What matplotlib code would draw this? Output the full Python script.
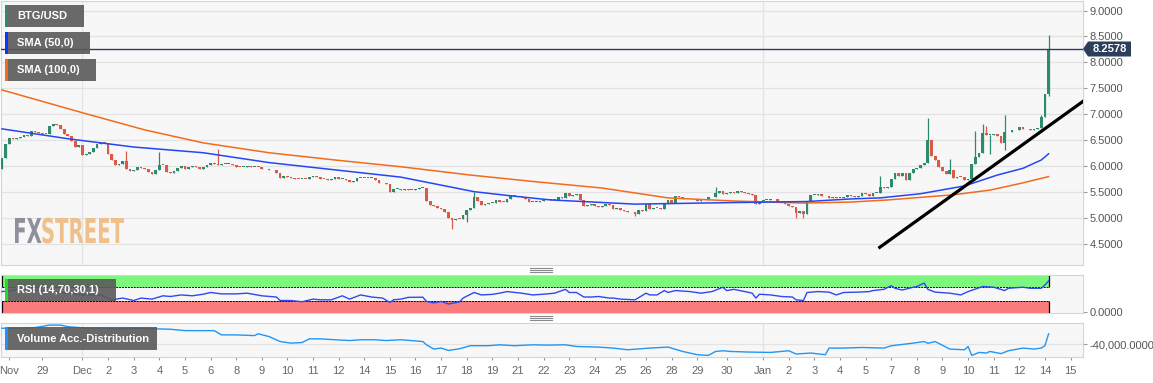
import numpy as np
import matplotlib.pyplot as plt
from matplotlib.patches import Rectangle, Polygon, PathPatch
from matplotlib.textpath import TextPath
from matplotlib.font_manager import FontProperties
from matplotlib.transforms import Affine2D, IdentityTransform

plt.rcParams['font.family'] = ['Liberation Sans', 'DejaVu Sans']

# BTG/USD 4h candles, first candle Nov 27 08:00
first_open = 5.95
closes = [
    6.15, 6.42, 6.55, 6.52, 6.55, 6.57, 6.60, 6.58, 6.68, 6.66,
    6.64, 6.63, 6.62, 6.78, 6.81, 6.80, 6.71, 6.63, 6.58, 6.48,
    6.37, 6.40, 6.22, 6.24, 6.27, 6.36, 6.42, 6.47, 6.45, 6.24,
    6.12, 6.03, 6.05, 6.10, 5.95, 5.90, 5.93, 5.98, 5.97, 5.94,
    5.88, 5.85, 5.92, 6.03, 6.02, 5.88, 5.86, 5.90, 5.96, 6.00,
    5.95, 5.98, 6.00, 5.98, 5.95, 5.99, 6.02, 6.06, 6.05, 6.03,
    6.04, 6.04, 6.05, 6.03, 5.99, 5.98, 5.99, 6.01, 5.98, 5.99,
    5.98, 5.94, 5.94, 5.92, 5.93, 5.86, 5.77, 5.82, 5.79, 5.77,
    5.76, 5.75, 5.76, 5.75, 5.79, 5.81, 5.79, 5.76, 5.75, 5.74,
    5.76, 5.80, 5.75, 5.76, 5.74, 5.69, 5.72, 5.77, 5.78, 5.77,
    5.77, 5.78, 5.74, 5.67, 5.68, 5.66, 5.50, 5.56, 5.56, 5.54,
    5.56, 5.55, 5.55, 5.56, 5.58, 5.58, 5.33, 5.25, 5.24, 5.20,
    5.18, 5.12, 5.00, 4.96, 4.99, 4.98, 5.06, 5.15, 5.19, 5.40,
    5.33, 5.25, 5.27, 5.29, 5.30, 5.34, 5.32, 5.31, 5.36, 5.44,
    5.42, 5.42, 5.41, 5.37, 5.31, 5.31, 5.32, 5.33, 5.34, 5.35,
    5.36, 5.35, 5.41, 5.39, 5.49, 5.43, 5.45, 5.46, 5.35, 5.24,
    5.26, 5.27, 5.23, 5.21, 5.24, 5.27, 5.25, 5.18, 5.19, 5.16,
    5.14, 5.12, 5.11, 5.08, 5.15, 5.14, 5.27, 5.18, 5.20, 5.19,
    5.18, 5.27, 5.34, 5.30, 5.43, 5.41, 5.37, 5.36, 5.36, 5.37,
    5.33, 5.34, 5.35, 5.40, 5.41, 5.49, 5.53, 5.47, 5.49, 5.50,
    5.49, 5.53, 5.51, 5.49, 5.46, 5.44, 5.28, 5.33, 5.35, 5.35,
    5.36, 5.36, 5.32, 5.33, 5.27, 5.23, 5.22, 5.10, 5.14, 5.08,
    5.31, 5.45, 5.45, 5.47, 5.43, 5.42, 5.39, 5.41, 5.39, 5.39,
    5.40, 5.45, 5.43, 5.41, 5.42, 5.48, 5.47, 5.43, 5.48, 5.48,
    5.60, 5.59, 5.60, 5.76, 5.86, 5.81, 5.86, 5.73, 5.86, 5.94,
    5.96, 6.02, 6.07, 6.50, 6.20, 6.12, 5.98, 5.90, 5.85, 5.93,
    5.78, 5.80, 5.79, 5.73, 5.76, 6.05, 6.18, 6.25, 6.64, 6.60,
    6.60, 6.62, 6.58, 6.45, 6.65, 6.66, 6.70, 6.69, 6.75, 6.72,
    6.71, 6.70, 6.72, 6.73, 6.95, 7.40, 8.2578,
]
hi_idx = [34, 43, 59, 129, 195, 240, 253, 259, 266, 268, 269, 274, 284, 286]
hi_val = [6.30, 6.28, 6.34, 5.51, 5.60, 5.82, 6.93, 6.14, 6.67, 6.82, 6.78, 6.99, 6.99, 8.52]
lo_idx = [123, 127, 173, 217, 219, 270, 274, 286]
lo_val = [4.79, 4.92, 5.04, 5.00, 5.00, 6.24, 6.32, 7.35]

sma50_idx = [0, 18, 36, 55, 73, 91, 109, 129, 139, 150, 173, 200, 220, 232, 240, 251, 263, 272, 279, 284, 286]
sma50 = [6.72, 6.53, 6.37, 6.26, 6.07, 5.93, 5.79, 5.51, 5.43, 5.35, 5.27, 5.30, 5.32, 5.37, 5.39, 5.47,
         5.62, 5.83, 5.96, 6.12, 6.24]
sma100_idx = [0, 22, 39, 55, 73, 91, 109, 128, 146, 164, 182, 200, 219, 232, 242, 260, 270, 279, 286]
sma100 = [7.47, 7.03, 6.70, 6.45, 6.26, 6.12, 5.99, 5.83, 5.70, 5.58, 5.39, 5.33, 5.29, 5.31, 5.35, 5.45,
          5.54, 5.68, 5.80]

rsi_idx = [0, 3, 5, 9, 14, 18, 22, 27, 30, 33, 36, 38, 41, 44, 46, 49, 52, 55, 57, 60,
           64, 67, 71, 75, 76, 79, 82, 85, 87, 90, 93, 95, 98, 101, 104, 106, 107, 109,
           111, 115, 116, 118, 120, 122, 125, 126, 129, 131, 134, 136, 138, 142, 145, 148,
           151, 154, 155, 157, 159, 161, 163, 166, 167, 169, 173, 176, 177, 179, 181, 182,
           184, 188, 191, 194, 197, 198, 200, 203, 205, 206, 207, 210, 213, 216, 217, 219,
           220, 223, 226, 228, 230, 234, 237, 238, 241, 243, 244, 246, 249, 250, 252, 253,
           255, 259, 262, 264, 268, 271, 274, 275, 279, 281, 284, 285, 286]
rsi = [57.6, 60.5, 67, 62, 57.6, 53, 48, 48, 34, 39, 32, 39, 36, 45.5, 43.5, 48, 45.5, 50, 55, 51,
       51, 53, 45.5, 42, 32, 32, 28.5, 36, 34, 34, 45.5, 36, 48, 42, 39, 26.6, 34, 36,
       41, 41.5, 29.5, 25, 29.5, 22, 28, 39, 55, 48, 49.6, 53, 57.6, 53, 48, 50,
       53, 64, 55, 55, 42, 42, 43.5, 39, 39, 36, 34, 53, 48, 48, 60.5, 55,
       60.5, 57.6, 53, 57.6, 70, 60.5, 64, 57.6, 53, 39, 50, 48, 43.5, 42, 34, 32,
       55, 57.6, 56, 48, 55, 56, 57.6, 60.5, 64, 74.5, 67, 62, 70, 72, 82, 64,
       56, 53, 48, 57.6, 72, 70, 60.5, 67, 70, 67, 67, 76.5, 88]

ad_idx = [0, 5, 9, 13, 16, 18, 23, 27, 32, 36, 43, 46, 50, 55, 58, 60, 64, 69, 70, 73,
          76, 79, 82, 84, 87, 91, 95, 98, 102, 105, 109, 115, 116, 118, 120, 122, 125, 128, 133, 136,
          140, 145, 149, 154, 157, 163, 167, 171, 177, 182, 186, 190, 193, 195, 197, 199, 204, 210, 215, 217,
          221, 225, 226, 230, 235, 241, 243, 249, 252, 253, 255, 259, 263, 264, 265, 267, 269, 270, 273, 275,
          279, 282, 284, 285, 286]
ad = [0, 0, 1500, 8000, 8000, 4000, 0, 0, -1750, 0, -1750, -2500, -6000, -6000, -6000, -16750, -16750, -18500, -14000, -21000,
      -33500, -37500, -36000, -26750, -26750, -29000, -31000, -29000, -29000, -31000, -29000, -33500, -41750, -52500, -50000,
      -56000, -51750, -44000, -44000, -41750,
      -44000, -41750, -42500, -41750, -46000, -47500, -50000, -54250, -50000, -47500, -58500, -66750, -68500, -58500,
      -56750, -58500, -60000, -61000, -56750, -65000,
      -62500, -66750, -50000, -50000, -48500, -50000, -44250, -37500, -33500, -38000, -33500, -52500, -54250, -46000,
      -68500, -61000, -62500, -58500, -64000, -56750,
      -50000, -52500, -50000, -44000, -14000]

trend_idx = [239.5, 295.8]
trend_val = [4.42, 7.27]
last_price = 8.2578

tick_idx = [2, 11, 22, 29, 36, 43, 50, 57, 64, 71, 78, 85, 92, 99, 106, 113, 120, 127, 134, 141, 148,
            155, 162, 169, 176, 183, 190, 198, 208, 215, 222, 229, 236, 243, 250, 257, 264, 271, 278, 285, 292]
tick_lbl = ['Nov', '29', 'Dec', '2', '3', '4', '5', '6', '8', '9', '10', '11', '12', '14', '15', '16', '17',
            '18', '19', '21', '22', '23', '24', '25', '26', '28', '29', '30', 'Jan', '2', '3', '4', '5', '7',
            '8', '9', '10', '11', '12', '14', '15']
month_idx = [22, 208]

UP, DOWN = '#2e8a6e', '#d95a46'
BG, GRID, EDGE = '#f7f7f7', '#e3e3e3', '#cdd4e2'
W, H = 1153, 383

fig = plt.figure(figsize=(W / 100, H / 100), dpi=100, facecolor='white')


def px_axes(x0, y0, x1, y1):
    return fig.add_axes([x0 / W, 1 - y1 / H, (x1 - x0) / W, (y1 - y0) / H])


def style(ax):
    ax.set_facecolor(BG)
    for s in ax.spines.values():
        s.set_color(EDGE)
    ax.set_xlim(-0.4, 295.4)
    ax.yaxis.tick_right()
    ax.tick_params(axis='y', length=3, width=0.8, color='#999999', pad=1.5,
                   labelsize=8, labelcolor='#555555')
    for m in month_idx:
        ax.axvline(m, color=GRID, lw=0.9, zorder=0)


ax = px_axes(0.5, 0.5, 1083, 265)
ax_rsi = px_axes(0.5, 275, 1083, 313)
ax_vol = px_axes(0.5, 323, 1083, 357)
for a in (ax, ax_rsi, ax_vol):
    style(a)

# main price panel
c = np.array(closes)
o = np.r_[first_open, c[:-1]]
hi = np.maximum(o, c)
lo = np.minimum(o, c)
hi[hi_idx] = hi_val
lo[lo_idx] = lo_val
x = np.arange(len(c))
col = np.where(c >= o, UP, DOWN)
ax.vlines(x, lo, hi, color=col, lw=0.9, zorder=2)
ax.bar(x, np.maximum(np.abs(c - o), 0.015), bottom=np.minimum(o, c), width=0.75,
       color=col, lw=0, zorder=3)
ax.plot(sma100_idx, sma100, color='#f26b1d', lw=1.1, zorder=4)
ax.plot(sma50_idx, sma50, color='#2447f5', lw=1.1, zorder=4)
ax.plot(trend_idx, trend_val, color='black', lw=2.3, zorder=5, solid_capstyle='butt')
ax.axhline(last_price, color='#2c3e5c', lw=1, zorder=6)
ax.set_ylim(4.097, 9.193)
ax.set_yticks(np.arange(4.5, 9.01, 0.5))
ax.set_yticklabels(['%.4f' % v for v in np.arange(4.5, 9.01, 0.5)])
ax.grid(axis='y', color=GRID, lw=0.9, zorder=0)
ax.set_xticks([])

# RSI panel
ax_rsi.fill_between([0, 286], 70, 106, color='#7df77d', lw=0, zorder=1)
ax_rsi.fill_between([0, 286], -4, 30, color='#fa7b7b', lw=0, zorder=1)
ax_rsi.hlines([70, 30], 0, 286, color='black', lw=0.7, linestyles=(0, (2, 1)), zorder=2)
ax_rsi.vlines([0, 286], 70, 106, color='black', lw=0.9, zorder=2)
ax_rsi.vlines([0, 286], -4, 30, color='black', lw=0.9, zorder=2)
ax_rsi.plot(rsi_idx, rsi, color='#2a4bf0', lw=1, zorder=3)
ax_rsi.set_ylim(-3.7, 105)
ax_rsi.set_yticks([0])
ax_rsi.set_yticklabels(['0.0000'])
ax_rsi.set_xticks([])

# Volume accumulation/distribution panel
ax_vol.plot(ad_idx, ad, color='#2196f3', lw=1, zorder=3)
ax_vol.set_ylim(-72500, 13250)
ax_vol.set_yticks([-40000])
ax_vol.set_yticklabels(['-40,000.0000'])
ax_vol.grid(axis='y', color=GRID, lw=0.9, zorder=0)
ax_vol.set_xticks(tick_idx)
ax_vol.set_xticklabels(tick_lbl)
ax_vol.tick_params(axis='x', length=2.5, width=0.8, color='#999999', pad=4,
                   labelsize=8, labelcolor='#666666')


def fx(px):
    return px / W


def fy(py):
    return 1 - py / H


def tag(x0, y0, w, h, text, strip):
    fig.add_artist(Rectangle((fx(x0), fy(y0 + h)), w / W, h / H, transform=fig.transFigure,
                             fc='#5a5a5a', ec='none', alpha=0.9, zorder=10))
    fig.add_artist(Rectangle((fx(x0), fy(y0 + h)), 2.5 / W, h / H, transform=fig.transFigure,
                             fc=strip, ec='none', zorder=11))
    fig.text(fx(x0 + 12), fy(y0 + h / 2), text, color='white', fontsize=8, fontweight='bold',
             va='center', ha='left', zorder=12)


tag(5, 5, 79, 22, 'BTG/USD', '#2e8a6e')
tag(5, 32, 85, 22, 'SMA (50,0)', '#1133ff')
tag(5, 59, 91, 22, 'SMA (100,0)', '#f26b1d')
tag(5, 279, 111, 22, 'RSI (14,70,30,1)', '#22dd22')
tag(5, 327, 152, 23, 'Volume Acc.-Distribution', '#1e90ff')

# last price tag
py = 49
fig.add_artist(Polygon([(fx(1083), fy(py)), (fx(1088), fy(py - 7.5)), (fx(1131), fy(py - 7.5)),
                        (fx(1131), fy(py + 7.5)), (fx(1088), fy(py + 7.5))],
                       closed=True, transform=fig.transFigure, fc='#2c3e5c', ec='none', zorder=10))
fig.text(fx(1110), fy(py), '%.4f' % last_price, color='white', fontsize=8, fontweight='bold',
         ha='center', va='center', zorder=11)

# panel resize handles
for yh in (268, 270, 272, 316, 318, 320):
    fig.add_artist(plt.Line2D([fx(530), fx(552)], [fy(yh), fy(yh)], transform=fig.transFigure,
                              color='#8a8a8a', lw=0.8))

# FXSTREET watermark
fp = FontProperties(family='DejaVu Sans', weight='bold')
p1 = TextPath((0, 0), 'FX', size=1, prop=fp)
p2 = TextPath((0, 0), 'STREET', size=1, prop=fp)
e1, e2 = p1.get_extents(), p2.get_extents()
gap = 0.04
sx = 109 / (e1.x1 - e1.x0 + gap + e2.x1 - e2.x0)
sy = 25 / e1.y1
base = H - 243
t1 = Affine2D().translate(-e1.x0, 0).scale(sx, sy).translate(15, base)
t2 = Affine2D().translate(-e2.x0 + (e1.x1 - e1.x0) + gap, 0).scale(sx, sy).translate(15, base)
fig.add_artist(PathPatch(t1.transform_path(p1), transform=IdentityTransform(),
                         fc='#8f909b', ec='none', zorder=1.5))
fig.add_artist(PathPatch(t2.transform_path(p2), transform=IdentityTransform(),
                         fc='#f0c08a', ec='none', zorder=1.5))

fig.savefig('out.png', dpi=100, facecolor='white')
